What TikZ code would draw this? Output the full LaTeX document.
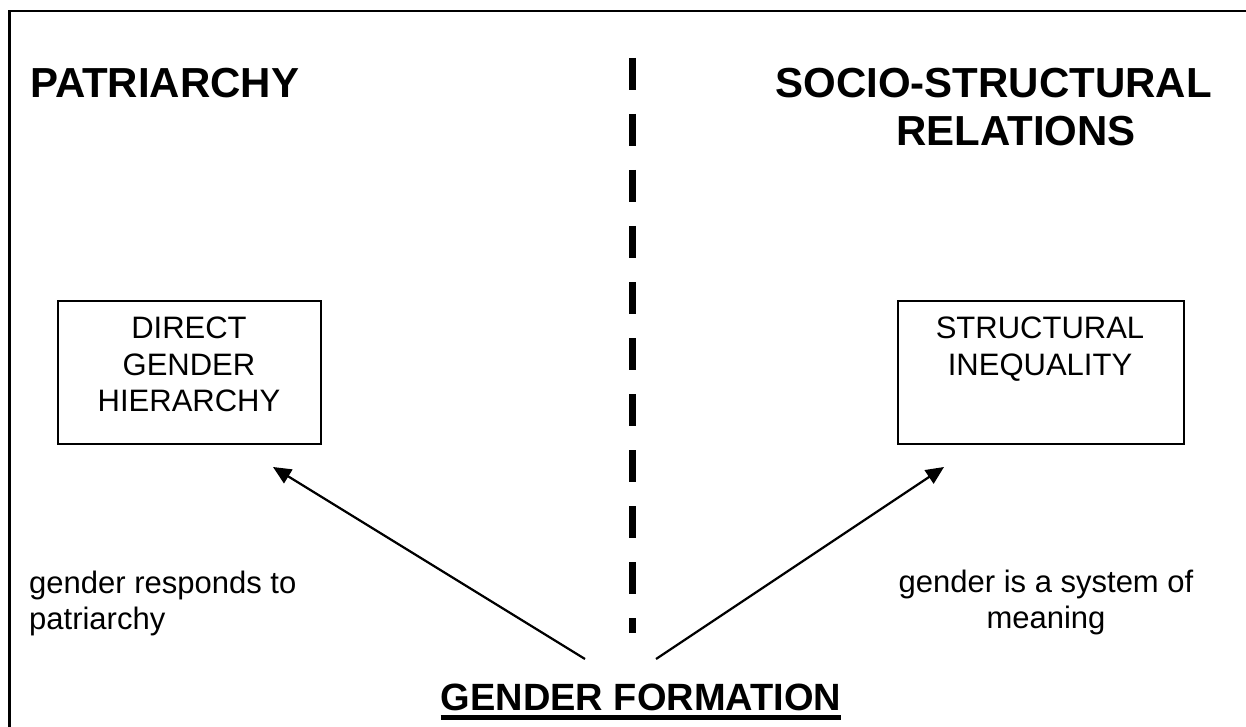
\documentclass[tikz,border=0pt]{standalone}
\usepackage{fontspec}
\setmainfont{Liberation Sans}
\usetikzlibrary{arrows.meta}
\begin{document}
\begin{tikzpicture}[x=1pt,y=-1pt,
  heading/.style={font=\fontsize{42}{48}\selectfont\bfseries, inner sep=0pt},
  body/.style={font=\fontsize{31}{36.5}\selectfont, inner sep=0pt},
  conceptbox/.style={draw, line width=2pt, inner sep=0pt, anchor=north west},
  link/.style={line width=2.2pt, -{Triangle[length=18pt,width=16pt]}},
  divider/.style={line width=7pt, dash pattern=on 32pt off 24pt}]
\useasboundingbox (0,0) rectangle (1246,727);

% page frame (left and top edges)
\coordinate (frameL) at (9.5,727);
\coordinate (frameC) at (9.5,11);
\coordinate (frameR) at (1246,11);
\draw[line width=2.5pt, line join=miter] (frameL) -- (frameC) -- (frameR);

% headings
\node[heading, anchor=base west] (patr) at (30,98) {PATRIARCHY};
\node[heading, anchor=base east] (socio) at (1212,98) {SOCIO-STRUCTURAL};
\node[heading, anchor=base east] (rel) at (1136,146) {RELATIONS};

% dashed divider
\coordinate (divtop) at (632.5,58);
\coordinate (divbot) at (632.5,633);
\draw[divider] (divtop) -- (divbot);

% concept boxes
\node[conceptbox, minimum width=263pt, minimum height=143pt] (lbox) at (57,300) {};
\node[body, align=center, anchor=north] (ltext) at (189,317) {DIRECT\\GENDER\\HIERARCHY};
\node[conceptbox, minimum width=286pt, minimum height=143pt] (rbox) at (897,300) {};
\node[body, align=center, anchor=north] (rtext) at (1040,317) {STRUCTURAL\\INEQUALITY};

% side notes
\node[body, align=left, anchor=north west] (lnote) at (29,570.5) {gender responds to\\patriarchy};
\node[body, align=center, anchor=north] (rnote) at (1046,569.5) {gender is a system of\\meaning};

% bottom title
\node[font=\fontsize{38}{44}\selectfont\bfseries, inner sep=0pt, anchor=base] (gf) at (641,710) {GENDER FORMATION};
\draw[line width=4.5pt] ([yshift=-7.5pt]gf.base west) -- ([yshift=-7.5pt]gf.base east);

% arrows
\coordinate (lfoot) at (585,659);
\coordinate (ltip) at (273,467);
\coordinate (rfoot) at (656,659);
\coordinate (rtip) at (944,467);
\draw[link] (lfoot) -- (ltip);
\draw[link] (rfoot) -- (rtip);
\end{tikzpicture}
\end{document}
